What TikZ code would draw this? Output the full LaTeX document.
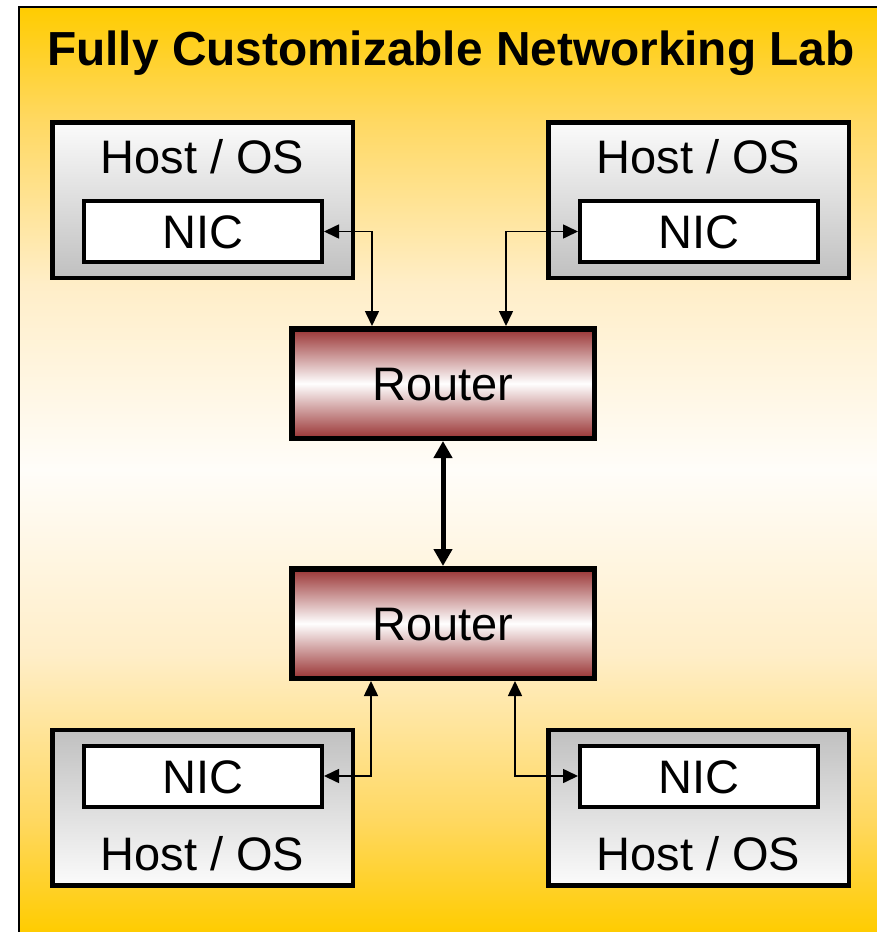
\documentclass[tikz,border=0pt]{standalone}
\usepackage{fontspec}
\setmainfont{Liberation Sans}
\usetikzlibrary{arrows.meta}
\definecolor{gold}{RGB}{255,204,0}
\definecolor{goldlight}{RGB}{255,216,96}
\definecolor{goldpale}{RGB}{255,238,200}
\definecolor{cream}{RGB}{255,253,249}
\definecolor{rred}{RGB}{153,51,51}
\definecolor{hgray}{RGB}{192,192,192}
\definecolor{hwhite}{RGB}{251,251,251}
\pgfdeclareverticalshading{bgshade}{100bp}{color(0bp)=(gold); color(25bp)=(gold); color(31bp)=(goldlight); color(40bp)=(goldpale); color(50bp)=(cream); color(60bp)=(goldpale); color(69bp)=(goldlight); color(75bp)=(gold); color(100bp)=(gold)}
\newcommand\labfont{\fontsize{47}{56}\selectfont}
\begin{document}
\begin{tikzpicture}[x=1pt,y=-1pt,
  hostbox/.style={draw,line width=4.5pt,minimum width=300.5pt,minimum height=155.5pt,inner sep=0pt},
  hosttop/.style={hostbox,top color=hwhite,bottom color=hgray},
  hostbot/.style={hostbox,top color=hgray,bottom color=hwhite},
  nicbox/.style={draw,fill=white,line width=4pt,minimum width=238pt,minimum height=61pt,inner sep=0pt,font=\labfont,text height=34pt,text depth=0pt},
  routerbox/.style={draw,line width=5.5pt,minimum width=302.5pt,minimum height=109.5pt,inner sep=0pt,top color=rred,bottom color=rred,middle color=white,font=\labfont,text height=34pt,text depth=0pt},
  hosttext/.style={anchor=base,inner sep=0pt,font=\labfont},
  thinarr/.style={line width=1.6pt,{Triangle[length=15pt,width=14pt]}-{Triangle[length=15pt,width=14pt]}},
  thickarr/.style={line width=5pt,{Triangle[length=17pt,width=18pt]}-{Triangle[length=17pt,width=18pt]}}
]
\useasboundingbox (0,0) rectangle (877,932);
\fill[white] (0,0) rectangle (877,932);
\shade[shading=bgshade] (19,7) rectangle (877,932);
\draw[line width=2.3pt] (19,932) -- (19,7) -- (877,7);

\node[anchor=base west,inner sep=0pt,font=\bfseries\fontsize{47.8}{57}\selectfont] (title) at (47,65) {Fully Customizable Networking Lab};

% hosts
\node[hosttop] (h1) at (202.5,200) {};
\node[hosttop] (h2) at (698.5,200) {};
\node[hostbot] (h3) at (202.5,807.5) {};
\node[hostbot] (h4) at (698.5,807.5) {};

\node[hosttext] (t1) at (202.5,173) {Host / OS};
\node[hosttext] (t2) at (698.5,173) {Host / OS};
\node[hosttext] (t3) at (202.5,870) {Host / OS};
\node[hosttext] (t4) at (698.5,870) {Host / OS};

\node[nicbox] (n1) at (203,231.5) {NIC};
\node[nicbox] (n2) at (699,231.5) {NIC};
\node[nicbox] (n3) at (203,776) {NIC};
\node[nicbox] (n4) at (699,776) {NIC};

% routers
\node[routerbox] (r1) at (443,383.5) {Router};
\node[routerbox] (r2) at (443,623.5) {Router};

% connectors
\draw[thinarr] (n1.east) -| ([xshift=-71pt]r1.north);
\draw[thinarr] (n2.west) -| ([xshift=63pt]r1.north);
\draw[thinarr] (n3.east) -| ([xshift=-72pt]r2.south);
\draw[thinarr] (n4.west) -| ([xshift=72pt]r2.south);
\draw[thickarr] (r1.south) -- (r2.north);
\end{tikzpicture}
\end{document}
